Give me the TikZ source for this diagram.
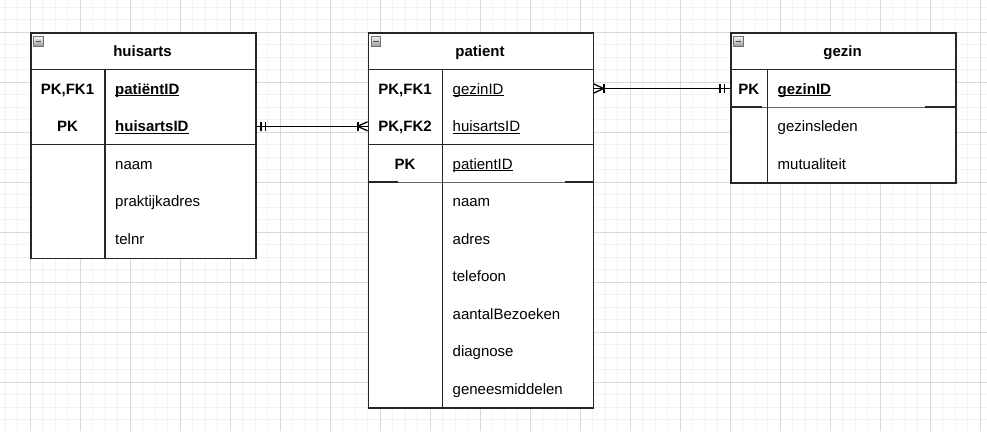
\documentclass[tikz,border=0pt]{standalone}
\usepackage{fontspec}
\setmainfont{Liberation Sans}
\usetikzlibrary{positioning}
\newcommand{\onderlijn}[1]{\setbox0\hbox{#1}\rlap{\copy0}\rule[-1.9pt]{\wd0}{1.1pt}}
\tikzset{
	tabel/.style={draw=black!85, fill=white, line width=1.5pt, minimum width=225pt, anchor=north west, inner sep=0pt},
	tekst/.style={inner sep=0pt, text height=11pt, text depth=0pt, font=\fontsize{15pt}{18pt}\selectfont},
	kop/.style={tekst, font=\fontsize{15pt}{18pt}\selectfont\bfseries},
	sleutel/.style={kop},
	veld/.style={tekst, anchor=west},
	icoon/.style={draw=black!55, top color=black!5, bottom color=black!40, minimum size=9.5pt, inner sep=0pt, line width=0.7pt,
		path picture={\draw[line width=1.6pt, black!70] ([xshift=1.8pt]path picture bounding box.west) -- ([xshift=-1.8pt]path picture bounding box.east);}},
	lijn/.style={draw=black!85, line width=1.5pt},
	relatie/.style={draw=black, line width=1.3pt}
}
\begin{document}
\begin{tikzpicture}[x=1pt, y=-1pt]
		\useasboundingbox (0,0) rectangle (987,431);
		\fill[white] (0,0) rectangle (987,431);
		\foreach \x in {5,17.5,...,987} \draw[black!5, line width=0.9pt] (\x,0) -- (\x,431);
		\foreach \y in {7,19.5,...,431} \draw[black!5, line width=0.9pt] (0,\y) -- (987,\y);
		\foreach \x in {30,80,...,980} \draw[black!15, line width=0.9pt] (\x,0) -- (\x,431);
		\foreach \y in {32,82,...,382} \draw[black!15, line width=0.9pt] (0,\y) -- (987,\y);

		\node[tabel, minimum height=225.5pt] (huisarts) at (30,32) {};
		\draw[lijn] (30,69.5) -- (255,69.5);
		\draw[lijn] (30,144.5) -- (255,144.5);
		\draw[lijn] (105,69.5) -- (105,257.5);
		\node[icoon] (huisartsIcoon) at (38.5,41.5) {};
		\node[kop] (huisartsKop) at (142.5,51) {huisarts};
		\node[sleutel] (huisartsPK1) at (67.5,88.5) {PK,FK1};
		\node[sleutel] (huisartsPK2) at (67.5,126.3) {PK};
		\node[veld, font=\fontsize{15pt}{18pt}\selectfont\bfseries] (hPatientID) at (115,88.5) {\onderlijn{patiëntID}};
		\node[veld, font=\fontsize{15pt}{18pt}\selectfont\bfseries] (hHuisartsID) at (115,126.3) {\onderlijn{huisartsID}};
		\node[veld] (hNaam) at (115,163.8) {naam};
		\node[veld] (hAdres) at (115,201.3) {praktijkadres};
		\node[veld] (hTelnr) at (115,238.8) {telnr};

		\node[tabel, minimum height=375pt] (patient) at (367.5,32) {};
		\draw[lijn] (367.5,69.5) -- (592.5,69.5);
		\draw[lijn] (367.5,144.5) -- (592.5,144.5);
		\draw[draw=black!60, line width=1pt] (367.5,182) -- (592.5,182);
		\draw[lijn, line width=1.9pt] (367.5,182) -- ++(30,0);
		\draw[lijn, line width=1.9pt] (592.5,182) -- ++(-28,0);
		\draw[lijn] (442.5,69.5) -- (442.5,407);
		\node[icoon] (patientIcoon) at (376,41.5) {};
		\node[kop] (patientKop) at (480,51) {patient};
		\node[sleutel] (patientPK1) at (405,88.5) {PK,FK1};
		\node[sleutel] (patientPK2) at (405,126.3) {PK,FK2};
		\node[sleutel] (patientPK3) at (405,163.8) {PK};
		\node[veld] (pGezinID) at (452.5,88.5) {\onderlijn{gezinID}};
		\node[veld] (pHuisartsID) at (452.5,126.3) {\onderlijn{huisartsID}};
		\node[veld] (pPatientID) at (452.5,163.8) {\onderlijn{patientID}};
		\node[veld] (pNaam) at (452.5,201.3) {naam};
		\node[veld] (pAdres) at (452.5,238.8) {adres};
		\node[veld] (pTelefoon) at (452.5,276.3) {telefoon};
		\node[veld] (pBezoeken) at (452.5,313.8) {aantalBezoeken};
		\node[veld] (pDiagnose) at (452.5,351.3) {diagnose};
		\node[veld] (pMiddelen) at (452.5,388.8) {geneesmiddelen};

		\node[tabel, minimum height=150pt] (gezin) at (730,32) {};
		\draw[lijn] (730,69.5) -- (955,69.5);
		\draw[draw=black!60, line width=1pt] (730,107) -- (955,107);
		\draw[lijn, line width=1.9pt] (730,107) -- ++(32,0);
		\draw[lijn, line width=1.9pt] (955,107) -- ++(-30,0);
		\draw[lijn] (767.5,69.5) -- (767.5,182);
		\node[icoon] (gezinIcoon) at (738.5,41.5) {};
		\node[kop] (gezinKop) at (842.5,51) {gezin};
		\node[sleutel] (gezinPK) at (748.75,88.5) {PK};
		\node[veld, font=\fontsize{15pt}{18pt}\selectfont\bfseries] (gGezinID) at (777.5,88.5) {\onderlijn{gezinID}};
		\node[veld] (gLeden) at (777.5,126.3) {gezinsleden};
		\node[veld] (gMutualiteit) at (777.5,163.8) {mutualiteit};

		\coordinate (hpA) at (huisarts.east |- hHuisartsID);
		\coordinate (hpB) at (patient.west |- hHuisartsID);
		\draw[relatie] (hpA) -- (hpB);
		\draw[relatie] ([xshift=4.5pt]hpA) ++(0,-4.5) -- ++(0,9);
		\draw[relatie] ([xshift=9pt]hpA) ++(0,-4.5) -- ++(0,9);
		\draw[relatie] ([xshift=-9.5pt]hpB) ++(0,-4.5) -- ++(0,9);
		\draw[relatie] ([xshift=-10pt]hpB) -- ([yshift=-4.5pt]hpB);
		\draw[relatie] ([xshift=-10pt]hpB) -- ([yshift=4.5pt]hpB);

		\coordinate (pgA) at (patient.east |- gGezinID);
		\coordinate (pgB) at (gezin.west |- gGezinID);
		\draw[relatie] (pgA) -- (pgB);
		\draw[relatie] ([xshift=10pt]pgA) ++(0,-4.5) -- ++(0,9);
		\draw[relatie] ([xshift=9.5pt]pgA) -- ([yshift=-4.5pt]pgA);
		\draw[relatie] ([xshift=9.5pt]pgA) -- ([yshift=4.5pt]pgA);
		\draw[relatie] ([xshift=-5.5pt]pgB) ++(0,-4.5) -- ++(0,9);
		\draw[relatie] ([xshift=-10pt]pgB) ++(0,-4.5) -- ++(0,9);
	\end{tikzpicture}
\end{document}
